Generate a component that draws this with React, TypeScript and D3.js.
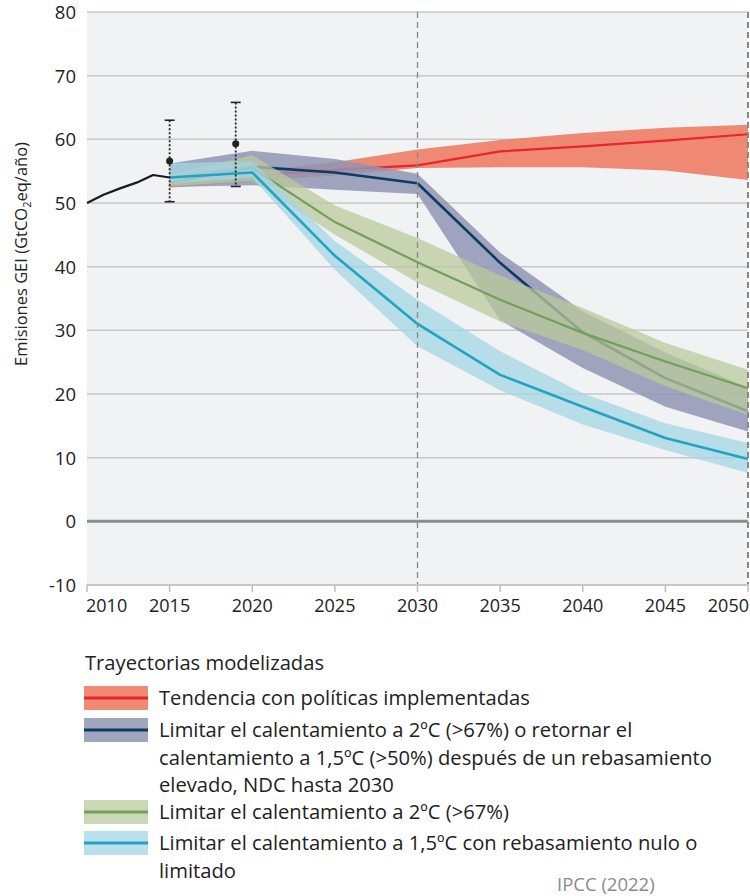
import React from "react";
import * as d3 from "d3";

const yearsScen = [2015, 2020, 2025, 2030, 2035, 2040, 2045, 2050];

const histYears = [2010, 2011, 2012, 2013, 2014, 2015];
const histValues = [50.0, 51.3, 52.3, 53.2, 54.4, 54.0];

const errYears = [2015, 2019];
const errMid = [56.6, 59.3];
const errLow = [50.2, 52.6];
const errHigh = [63.0, 65.8];

const redMed = [52.9, 54.3, 55.2, 55.9, 58.1, 58.9, 59.8, 60.8];
const redLow = [52.4, 53.5, 54.3, 55.5, 55.6, 55.6, 55.1, 53.6];
const redHigh = [53.4, 55.0, 56.4, 58.4, 59.9, 61.0, 61.8, 62.3];

const purpleMed = [53.9, 55.7, 54.8, 53.1, 40.6, 29.7, 22.5, 17.3];
const purpleLow = [52.5, 52.8, 52.1, 51.4, 31.6, 24.1, 18.0, 14.1];
const purpleHigh = [56.2, 58.2, 56.9, 54.6, 42.2, 33.0, 26.5, 21.0];

const greenMed = [53.2, 55.5, 47.0, 40.7, 34.8, 29.6, 25.1, 20.9];
const greenLow = [52.6, 53.5, 45.0, 37.5, 31.4, 26.9, 21.2, 16.7];
const greenHigh = [54.5, 57.5, 49.6, 44.5, 38.6, 33.5, 28.0, 23.8];

const blueMed = [54.0, 54.8, 41.7, 31.0, 23.0, 18.0, 13.1, 9.8];
const blueLow = [53.0, 54.0, 39.5, 27.5, 20.6, 15.2, 11.2, 7.6];
const blueHigh = [56.3, 56.5, 44.0, 34.8, 26.7, 20.1, 15.4, 12.3];

const xTicks = [2010, 2015, 2020, 2025, 2030, 2035, 2040, 2045, 2050];
const yTicks = [-10, 0, 10, 20, 30, 40, 50, 60, 70, 80];
const dashedYears = [2030, 2050];

const legendTitle = "Trayectorias modelizadas";
const legendLabels = [
  ["Tendencia con políticas implementadas"],
  [
    "Limitar el calentamiento a 2ºC (>67%) o retornar el",
    "calentamiento a 1,5ºC (>50%) después de un rebasamiento",
    "elevado, NDC hasta 2030",
  ],
  ["Limitar el calentamiento a 2ºC (>67%)"],
  ["Limitar el calentamiento a 1,5ºC con rebasamiento nulo o", "limitado"],
];
const sourceText = "IPCC (2022)";

const FONT = "'Open Sans', sans-serif";

const series = [
  { med: redMed, low: redLow, high: redHigh, band: "#ef7d66", line: "#e8242d", bandOpacity: 0.9, lw: 2.2 },
  { med: purpleMed, low: purpleLow, high: purpleHigh, band: "#9195b3", line: "#0f3a63", bandOpacity: 0.85, lw: 2.6 },
  { med: greenMed, low: greenLow, high: greenHigh, band: "#b9c99c", line: "#72a05a", bandOpacity: 0.75, lw: 2.2 },
  { med: blueMed, low: blueLow, high: blueHigh, band: "#a3d5e5", line: "#22a3c3", bandOpacity: 0.75, lw: 2.6 },
];

export default function App() {
  const left = 87;
  const right = 748;
  const top = 12;
  const bottom = 585;

  const x = d3.scaleLinear().domain([2010, 2050]).range([left, right]);
  const y = d3.scaleLinear().domain([-10, 80]).range([bottom, top]);

  const makeArea = (low: number[], high: number[]) =>
    d3
      .area<number>()
      .x((d) => x(d))
      .y0((_, i) => y(low[i]))
      .y1((_, i) => y(high[i]))(yearsScen) || "";

  const makeLine = (vals: number[], yrs: number[]) =>
    d3
      .line<number>()
      .x((d) => x(d))
      .y((_, i) => y(vals[i]))(yrs) || "";

  const legX = 84;
  const swW = 64;
  const swH = 24;
  const textX = 159;
  const lineGap = 27.5;
  const rowStarts = [698, 730, 812, 843];
  const legFont = 20.2;

  return (
    <svg
      width={750}
      height={896}
      style={{ position: "absolute", left: 0, top: 0, background: "#fff" }}
      fontFamily={FONT}
    >
      <rect x={left} y={top} width={right - left} height={bottom - top} fill="#f1f2f4" />
      {yTicks
        .filter((t) => t !== 0 && t !== -10)
        .map((t) => (
          <line key={t} x1={left} x2={right} y1={y(t)} y2={y(t)} stroke="#c6c7c9" strokeWidth={1.5} />
        ))}

      {series.map((s, k) => (
        <g key={k}>
          <path d={makeArea(s.low, s.high)} fill={s.band} fillOpacity={s.bandOpacity} />
          <path d={makeLine(s.med, yearsScen)} fill="none" stroke={s.line} strokeWidth={s.lw} strokeLinejoin="round" />
        </g>
      ))}

      <path d={makeLine(histValues, histYears)} fill="none" stroke="#1a1a1a" strokeWidth={2.2} strokeLinejoin="round" />

      {errYears.map((yr, i) => (
        <g key={yr}>
          <line x1={x(yr)} x2={x(yr)} y1={y(errHigh[i])} y2={y(errLow[i])} stroke="#222" strokeWidth={1.8} strokeDasharray="2,2" />
          <line x1={x(yr) - 5} x2={x(yr) + 5} y1={y(errHigh[i])} y2={y(errHigh[i])} stroke="#222" strokeWidth={1.6} />
          <line x1={x(yr) - 5} x2={x(yr) + 5} y1={y(errLow[i])} y2={y(errLow[i])} stroke="#222" strokeWidth={1.6} />
          <circle cx={x(yr)} cy={y(errMid[i])} r={3.5} fill="#222" />
        </g>
      ))}

      <line x1={left} x2={right} y1={y(0)} y2={y(0)} stroke="#8e8e8e" strokeWidth={3} />

      {dashedYears.map((yr) => (
        <line
          key={yr}
          x1={x(yr)}
          x2={x(yr)}
          y1={top}
          y2={bottom}
          stroke="#888"
          strokeWidth={yr === 2050 ? 2 : 1.3}
          strokeDasharray="6,4"
        />
      ))}

      <line x1={left} x2={right + 1} y1={bottom} y2={bottom} stroke="#c6c7c9" strokeWidth={2} />
      {xTicks.map((t) => (
        <line key={t} x1={x(t)} x2={x(t)} y1={bottom} y2={bottom + 7} stroke="#bdbdbd" strokeWidth={1.5} />
      ))}
      {xTicks.map((t, i) => (
        <text
          key={t}
          x={i === 0 ? x(t) - 1 : i === xTicks.length - 1 ? x(t) + 1 : x(t)}
          y={612}
          fontSize={18}
          fill="#222"
          textAnchor={i === 0 ? "start" : i === xTicks.length - 1 ? "end" : "middle"}
        >
          {t}
        </text>
      ))}
      {yTicks.map((t) => (
        <text key={t} x={76} y={y(t) + 7} fontSize={18.5} fill="#222" textAnchor="end">
          {t}
        </text>
      ))}

      <text transform={`translate(27,254) rotate(-90)`} fontSize={16.5} fill="#222" textAnchor="middle">
        Emisiones GEI (GtCO
        <tspan fontSize={11} dy={4}>2</tspan>
        <tspan dy={-4}>eq/año)</tspan>
      </text>

      <text x={85} y={670} fontSize={legFont} fill="#222">
        {legendTitle}
      </text>
      {legendLabels.map((lines, i) => {
        const s = series[i];
        const cy = rowStarts[i];
        return (
          <g key={i}>
            <rect x={legX} y={cy - swH / 2} width={swW} height={swH} fill={s.band} fillOpacity={s.bandOpacity} />
            <line x1={legX} x2={legX + swW} y1={cy} y2={cy} stroke={s.line} strokeWidth={3} />
            {lines.map((ln, j) => (
              <text key={j} x={textX} y={cy + j * lineGap + 7} fontSize={legFont} fill="#222">
                {ln}
              </text>
            ))}
          </g>
        );
      })}
      <text x={557} y={891} fontSize={18.5} fill="#8a8a8a">
        {sourceText}
      </text>
    </svg>
  );
}
